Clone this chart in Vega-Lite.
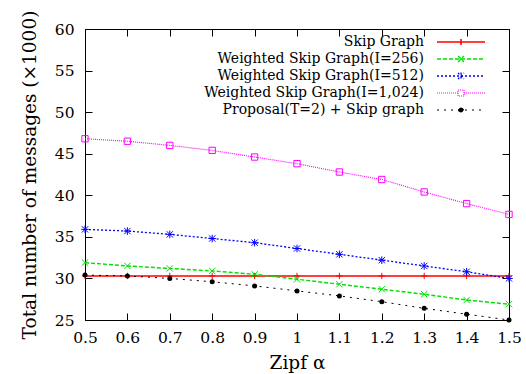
{
  "$schema": "https://vega.github.io/schema/vega-lite/v6.json",
  "width": 424,
  "height": 291,
  "autosize": {"type": "none"},
  "padding": {"left": 85, "top": 29, "right": 17, "bottom": 54},
  "config": {
    "font": "DejaVu Serif",
    "view": {"stroke": "black", "strokeWidth": 1},
    "axis": {
      "domain": false, "grid": false, "tickColor": "black", "tickSize": 7, "tickWidth": 1, "offset": -7,
      "labelColor": "black", "labelFlush": false, "labelOverlap": false,
      "titleColor": "black", "titleFontWeight": "normal"
    },
    "legend": {
      "orient": "none", "legendX": 369, "legendY": 6, "padding": 0, "rowPadding": 3,
      "labelAlign": "right", "labelOffset": -44,
      "labelColor": "black", "labelLimit": 0, "symbolSize": 36, "symbolStrokeWidth": 1
    }
  },
  "data": {"values": [
    {"alpha": 0.5, "series": "Skip Graph", "messages": 30.3},
    {"alpha": 0.6, "series": "Skip Graph", "messages": 30.3},
    {"alpha": 0.7, "series": "Skip Graph", "messages": 30.3},
    {"alpha": 0.8, "series": "Skip Graph", "messages": 30.3},
    {"alpha": 0.9, "series": "Skip Graph", "messages": 30.3},
    {"alpha": 1.0, "series": "Skip Graph", "messages": 30.3},
    {"alpha": 1.1, "series": "Skip Graph", "messages": 30.3},
    {"alpha": 1.2, "series": "Skip Graph", "messages": 30.3},
    {"alpha": 1.3, "series": "Skip Graph", "messages": 30.3},
    {"alpha": 1.4, "series": "Skip Graph", "messages": 30.3},
    {"alpha": 1.5, "series": "Skip Graph", "messages": 30.3},
    {"alpha": 0.5, "series": "Weighted Skip Graph(I=256)", "messages": 31.9},
    {"alpha": 0.6, "series": "Weighted Skip Graph(I=256)", "messages": 31.5},
    {"alpha": 0.7, "series": "Weighted Skip Graph(I=256)", "messages": 31.2},
    {"alpha": 0.8, "series": "Weighted Skip Graph(I=256)", "messages": 30.9},
    {"alpha": 0.9, "series": "Weighted Skip Graph(I=256)", "messages": 30.5},
    {"alpha": 1.0, "series": "Weighted Skip Graph(I=256)", "messages": 29.9},
    {"alpha": 1.1, "series": "Weighted Skip Graph(I=256)", "messages": 29.3},
    {"alpha": 1.2, "series": "Weighted Skip Graph(I=256)", "messages": 28.7},
    {"alpha": 1.3, "series": "Weighted Skip Graph(I=256)", "messages": 28.1},
    {"alpha": 1.4, "series": "Weighted Skip Graph(I=256)", "messages": 27.4},
    {"alpha": 1.5, "series": "Weighted Skip Graph(I=256)", "messages": 26.9},
    {"alpha": 0.5, "series": "Weighted Skip Graph(I=512)", "messages": 35.9},
    {"alpha": 0.6, "series": "Weighted Skip Graph(I=512)", "messages": 35.7},
    {"alpha": 0.7, "series": "Weighted Skip Graph(I=512)", "messages": 35.3},
    {"alpha": 0.8, "series": "Weighted Skip Graph(I=512)", "messages": 34.8},
    {"alpha": 0.9, "series": "Weighted Skip Graph(I=512)", "messages": 34.3},
    {"alpha": 1.0, "series": "Weighted Skip Graph(I=512)", "messages": 33.6},
    {"alpha": 1.1, "series": "Weighted Skip Graph(I=512)", "messages": 32.9},
    {"alpha": 1.2, "series": "Weighted Skip Graph(I=512)", "messages": 32.2},
    {"alpha": 1.3, "series": "Weighted Skip Graph(I=512)", "messages": 31.5},
    {"alpha": 1.4, "series": "Weighted Skip Graph(I=512)", "messages": 30.8},
    {"alpha": 1.5, "series": "Weighted Skip Graph(I=512)", "messages": 30.0},
    {"alpha": 0.5, "series": "Weighted Skip Graph(I=1,024)", "messages": 46.8},
    {"alpha": 0.6, "series": "Weighted Skip Graph(I=1,024)", "messages": 46.5},
    {"alpha": 0.7, "series": "Weighted Skip Graph(I=1,024)", "messages": 46.0},
    {"alpha": 0.8, "series": "Weighted Skip Graph(I=1,024)", "messages": 45.4},
    {"alpha": 0.9, "series": "Weighted Skip Graph(I=1,024)", "messages": 44.6},
    {"alpha": 1.0, "series": "Weighted Skip Graph(I=1,024)", "messages": 43.8},
    {"alpha": 1.1, "series": "Weighted Skip Graph(I=1,024)", "messages": 42.8},
    {"alpha": 1.2, "series": "Weighted Skip Graph(I=1,024)", "messages": 41.9},
    {"alpha": 1.3, "series": "Weighted Skip Graph(I=1,024)", "messages": 40.4},
    {"alpha": 1.4, "series": "Weighted Skip Graph(I=1,024)", "messages": 39.0},
    {"alpha": 1.5, "series": "Weighted Skip Graph(I=1,024)", "messages": 37.7},
    {"alpha": 0.5, "series": "Proposal(T=2) + Skip graph", "messages": 30.4},
    {"alpha": 0.6, "series": "Proposal(T=2) + Skip graph", "messages": 30.3},
    {"alpha": 0.7, "series": "Proposal(T=2) + Skip graph", "messages": 30.0},
    {"alpha": 0.8, "series": "Proposal(T=2) + Skip graph", "messages": 29.6},
    {"alpha": 0.9, "series": "Proposal(T=2) + Skip graph", "messages": 29.1},
    {"alpha": 1.0, "series": "Proposal(T=2) + Skip graph", "messages": 28.5},
    {"alpha": 1.1, "series": "Proposal(T=2) + Skip graph", "messages": 27.9},
    {"alpha": 1.2, "series": "Proposal(T=2) + Skip graph", "messages": 27.2},
    {"alpha": 1.3, "series": "Proposal(T=2) + Skip graph", "messages": 26.4},
    {"alpha": 1.4, "series": "Proposal(T=2) + Skip graph", "messages": 25.7},
    {"alpha": 1.5, "series": "Proposal(T=2) + Skip graph", "messages": 25.0}
  ]},
  "layer": [
    {
      "mark": {"type": "line", "clip": true},
      "encoding": {
        "x": {"field": "alpha", "type": "quantitative", "scale": {"domain": [0.5, 1.5], "nice": false, "zero": false},
              "axis": {"orient": "bottom", "values": [0.5, 0.6, 0.7, 0.8, 0.9, 1, 1.1, 1.2, 1.3, 1.4, 1.5], "format": "~g", "title": "Zipf α",
                       "labelFont": "DejaVu Serif", "labelFontSize": 15.5, "titleFont": "DejaVu Serif", "titleFontSize": 18.5, "labelPadding": 10, "titlePadding": 8}},
        "y": {"field": "messages", "type": "quantitative", "scale": {"domain": [25, 60], "nice": false, "zero": false},
              "axis": {"orient": "left", "values": [25, 30, 35, 40, 45, 50, 55, 60], "title": "Total number of messages (×1000)",
                       "labelFont": "DejaVu Serif", "labelFontSize": 15.5, "titleFont": "DejaVu Serif", "titleFontSize": 18.5, "labelPadding": 11, "titlePadding": 15}},
        "color": {"field": "series", "type": "nominal", "title": null,
          "scale": {"domain": ["Skip Graph", "Weighted Skip Graph(I=256)", "Weighted Skip Graph(I=512)", "Weighted Skip Graph(I=1,024)", "Proposal(T=2) + Skip graph"],
                    "range": ["#ff0000", "#00e000", "#0000ff", "#ff00ff", "#000000"]},
          "legend": {
            "labelFont": "DejaVu Serif", "labelFontSize": 14,
            "symbolType": "M-8,0L8,0",
            "encode": {"symbols": {"update": {
              "shape": {"signal": "datum.value === 'Skip Graph' ? 'M-8,0L8,0M0,-1L0,1' : datum.value === 'Weighted Skip Graph(I=256)' ? 'M-8,0L8,0M-1,-1L1,1M-1,1L1,-1' : datum.value === 'Weighted Skip Graph(I=512)' ? 'M-8,0L8,0M-1,-1L1,1M-1,1L1,-1M0,-1.2L0,1.2' : datum.value === 'Weighted Skip Graph(I=1,024)' ? 'M-8,0L-1,0M1,0L8,0M-1,-1L1,-1L1,1L-1,1Z' : 'M-8,0L8,0M-0.8,0A0.8,0.8 0 1,0 0.8,0A0.8,0.8 0 1,0 -0.8,0Z'"},
              "strokeDash": {"signal": "datum.value === 'Skip Graph' ? [1,0] : datum.value === 'Weighted Skip Graph(I=256)' ? [4,2] : datum.value === 'Weighted Skip Graph(I=512)' ? [2,2] : datum.value === 'Weighted Skip Graph(I=1,024)' ? [1,1] : [2,5]"},
              "fill": {"signal": "datum.value === 'Proposal(T=2) + Skip graph' ? 'black' : 'transparent'"},
              "strokeWidth": {"signal": "datum.value === 'Skip Graph' ? 1.6 : 1"},
              "opacity": {"value": 1}
            }}}
          }},
        "strokeDash": {"field": "series", "type": "nominal", "legend": null,
          "scale": {"domain": ["Skip Graph", "Weighted Skip Graph(I=256)", "Weighted Skip Graph(I=512)", "Weighted Skip Graph(I=1,024)", "Proposal(T=2) + Skip graph"],
                    "range": [[1, 0], [4, 2], [2, 2], [1, 1], [2, 5]]}},
        "strokeWidth": {"field": "series", "type": "nominal", "legend": null,
          "scale": {"domain": ["Skip Graph", "Weighted Skip Graph(I=256)", "Weighted Skip Graph(I=512)", "Weighted Skip Graph(I=1,024)", "Proposal(T=2) + Skip graph"],
                    "range": [1.6, 1, 1, 1, 1]}}
      }
    },
    {
      "transform": [{"filter": "datum.series === 'Skip Graph'"}],
      "mark": {"type": "point", "filled": false, "strokeWidth": 1, "size": 40, "opacity": 1, "color": "#ff0000", "shape": "M-1,0L1,0M0,-1L0,1"},
      "encoding": {"x": {"field": "alpha", "type": "quantitative", "axis": null}, "y": {"field": "messages", "type": "quantitative", "axis": null}}
    },
    {
      "transform": [{"filter": "datum.series === 'Weighted Skip Graph(I=256)'"}],
      "mark": {"type": "point", "filled": false, "strokeWidth": 1, "size": 40, "opacity": 1, "color": "#00e000", "shape": "M-1,-1L1,1M-1,1L1,-1"},
      "encoding": {"x": {"field": "alpha", "type": "quantitative", "axis": null}, "y": {"field": "messages", "type": "quantitative", "axis": null}}
    },
    {
      "transform": [{"filter": "datum.series === 'Weighted Skip Graph(I=512)'"}],
      "mark": {"type": "point", "filled": false, "strokeWidth": 1, "size": 40, "opacity": 1, "color": "#0000ff", "shape": "M-1,-1L1,1M-1,1L1,-1M0,-1.2L0,1.2M-1.2,0L1.2,0"},
      "encoding": {"x": {"field": "alpha", "type": "quantitative", "axis": null}, "y": {"field": "messages", "type": "quantitative", "axis": null}}
    },
    {
      "transform": [{"filter": "datum.series === 'Weighted Skip Graph(I=1,024)'"}],
      "mark": {"type": "point", "filled": false, "strokeWidth": 1, "size": 40, "opacity": 1, "color": "#ff00ff", "shape": "square"},
      "encoding": {"x": {"field": "alpha", "type": "quantitative", "axis": null}, "y": {"field": "messages", "type": "quantitative", "axis": null}}
    },
    {
      "transform": [{"filter": "datum.series === 'Proposal(T=2) + Skip graph'"}],
      "mark": {"type": "circle", "size": 25, "opacity": 1, "color": "black"},
      "encoding": {"x": {"field": "alpha", "type": "quantitative", "axis": null}, "y": {"field": "messages", "type": "quantitative", "axis": null}}
    },
    {
      "mark": {"type": "point", "opacity": 0},
      "encoding": {
        "x": {"field": "alpha", "type": "quantitative", "axis": {"orient": "top", "values": [0.5, 0.6, 0.7, 0.8, 0.9, 1, 1.1, 1.2, 1.3, 1.4, 1.5], "labels": false, "title": null}},
        "y": {"field": "messages", "type": "quantitative", "axis": {"orient": "right", "values": [25, 30, 35, 40, 45, 50, 55, 60], "labels": false, "title": null}}
      }
    }
  ],
  "resolve": {"axis": {"x": "independent", "y": "independent"}}
}
